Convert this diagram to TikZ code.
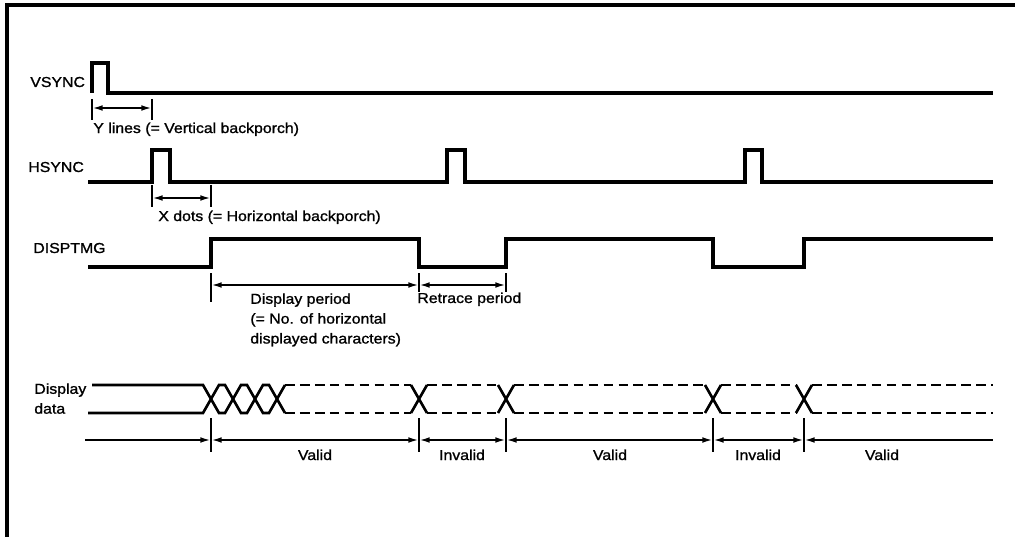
\documentclass[tikz,border=0pt]{standalone}
\usepackage{fontspec}
\setmainfont[FakeStretch=1.1, FakeBold=1.2]{Liberation Sans}
\usetikzlibrary{arrows.meta}
\tikzstyle{every node}=[inner sep=0pt, font=\fontsize{8.2}{11.3}\selectfont]
\tikzstyle{wave}=[line width=1.8pt]
\tikzstyle{dataline}=[line width=1.5pt]
\tikzstyle{datadash}=[dataline, dash pattern=on 5.5pt off 3pt]
\tikzstyle{tickline}=[line width=0.9pt]
\tikzstyle{dimarrow}=[line width=1.1pt, {Latex[length=6pt,width=3.2pt]}-{Latex[length=6pt,width=3.2pt]}]
\tikzstyle{leftarrow}=[line width=1.1pt, {Latex[length=6pt,width=3.2pt]}-]
\tikzstyle{rightarrow}=[line width=1.1pt, -{Latex[length=6pt,width=3.2pt]}]

\begin{document}
\begin{tikzpicture}[x=0.02cm, y=-0.02cm]
    \useasboundingbox (0,0) rectangle (1015,537);
    % frame
    \draw[line width=2.2pt] (1015,5) -- (7,5) -- (7,537);

    % signal names
    \node[anchor=base west] (vsync) at (30,87) {VSYNC};
    \node[anchor=base west] (hsync) at (28,172) {HSYNC};
    \node[anchor=base west] (disptmg) at (33,253) {DISPTMG};
    \node[anchor=north west, align=left] (dispdata) at (34,383) {Display\\data};

    % waveforms
    \draw[wave] (92,93) -- (92,63) -- (108,63) -- (108,93) -- (993,93);
    \draw[wave] (88,182) -- (152,182) -- (152,150) -- (170,150) -- (170,182)
        -- (447,182) -- (447,150) -- (465,150) -- (465,182)
        -- (745,182) -- (745,150) -- (762,150) -- (762,182) -- (993,182);
    \draw[wave] (88,267) -- (211,267) -- (211,239) -- (419,239) -- (419,267)
        -- (506,267) -- (506,239) -- (713,239) -- (713,267)
        -- (804,267) -- (804,239) -- (993,239);

    % Y lines
    \coordinate (ya) at (92,108);
    \coordinate (yb) at (152,108);
    \draw[tickline] (92,99) -- (92,120);
    \draw[tickline] (152,99) -- (152,120);
    \draw[dimarrow] (ya) -- (yb);
    \node[anchor=base west] (ylines) at (93,133) {Y lines (= Vertical backporch)};

    % X dots
    \coordinate (xa) at (152,198);
    \coordinate (xb) at (211,198);
    \draw[tickline] (152,185) -- (152,207);
    \draw[tickline] (211,185) -- (211,207);
    \draw[dimarrow] (xa) -- (xb);
    \node[anchor=base west] (xdots) at (158,221) {X dots (= Horizontal backporch)};

    % display / retrace period
    \coordinate (pa) at (211,285);
    \coordinate (pb) at (419,285);
    \coordinate (pc) at (506,285);
    \draw[tickline] (211,273) -- (211,302);
    \draw[tickline] (419,273) -- (419,292);
    \draw[tickline] (506,273) -- (506,292);
    \draw[dimarrow] (pa) -- (pb);
    \draw[dimarrow] (pb) -- (pc);
    \node[anchor=north west, align=left] (dispperiod) at (250,293)
        {Display period\\(= No. of horizontal\\displayed characters)};
    \node[anchor=base west] (retrace) at (417,303) {Retrace period};

    % display data
    \draw[dataline] (92,385) -- (203,385) -- (219,413) -- (225,413) -- (241,385)
        -- (247,385) -- (263,413) -- (269,413) -- (285,385);
    \draw[dataline] (88,413) -- (203,413) -- (219,385) -- (225,385) -- (241,413)
        -- (247,413) -- (263,385) -- (269,385) -- (285,413);
    \foreach \c in {419,506,713,804}
        \draw[dataline] (\c-8,385) -- (\c+8,413) (\c-8,413) -- (\c+8,385);
    \foreach \a/\b in {285/411,427/498,514/705,721/796,812/993}
        \draw[datadash] (\a,385) -- (\b,385) (\a,413) -- (\b,413);

    % valid / invalid
    \coordinate (t0) at (85,440);
    \coordinate (t1) at (211,440);
    \coordinate (t2) at (419,440);
    \coordinate (t3) at (506,440);
    \coordinate (t4) at (713,440);
    \coordinate (t5) at (804,440);
    \coordinate (t6) at (993,440);
    \foreach \x in {211,419,506,713,804}
        \draw[tickline] (\x,418) -- (\x,452);
    \draw[rightarrow] (t0) -- (t1);
    \draw[dimarrow] (t1) -- (t2);
    \draw[dimarrow] (t2) -- (t3);
    \draw[dimarrow] (t3) -- (t4);
    \draw[dimarrow] (t4) -- (t5);
    \draw[leftarrow] (t5) -- (t6);
    \node[anchor=base] (valid1) at (315,460) {Valid};
    \node[anchor=base] (invalid1) at (462,460) {Invalid};
    \node[anchor=base] (valid2) at (610,460) {Valid};
    \node[anchor=base] (invalid2) at (758,460) {Invalid};
    \node[anchor=base] (valid3) at (882,460) {Valid};
\end{tikzpicture}
\end{document}
